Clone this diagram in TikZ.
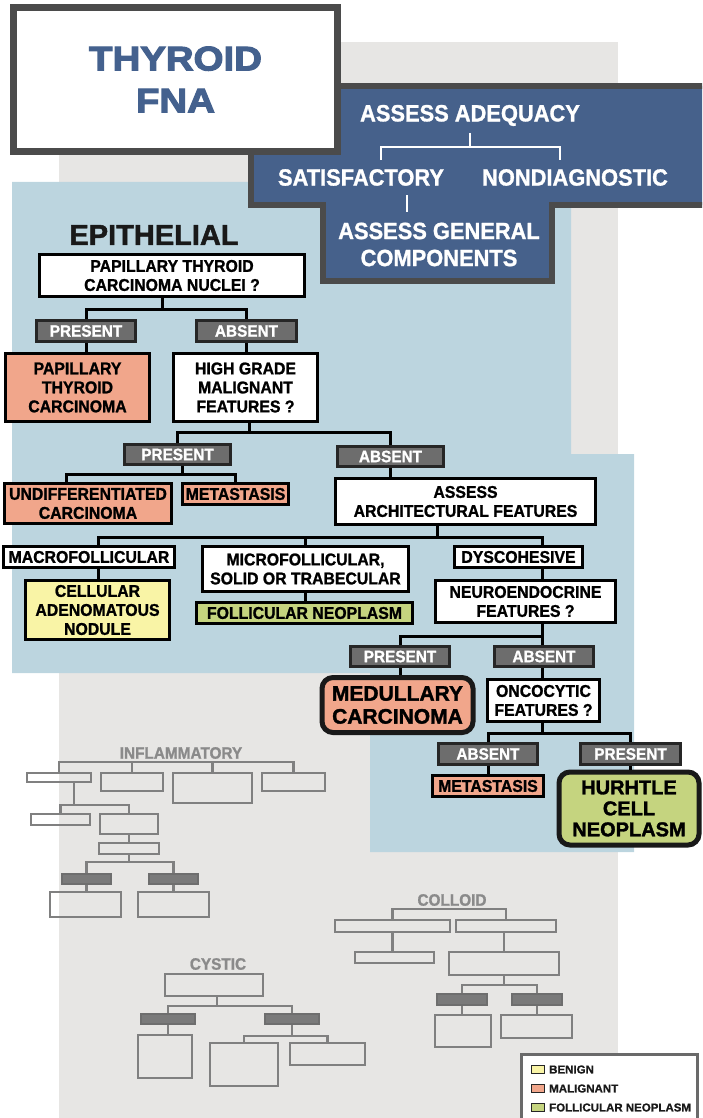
\documentclass[tikz,border=0pt]{standalone}
\usepackage{fontspec}
\setmainfont{Liberation Sans}
\newfontfamily\nf{Liberation Sans}[FakeStretch=0.93, FakeBold=1.2]
\newfontfamily\hf{Liberation Sans}[FakeBold=1.6]
\newfontfamily\lf{Liberation Sans}[FakeBold=0.8]
\newfontfamily\tf{Liberation Sans}[FakeStretch=1.13, FakeBold=3.4]
\definecolor{bggray}{HTML}{E7E6E4}
\definecolor{bluebg}{HTML}{BCD5DF}
\definecolor{navy}{HTML}{46618B}
\definecolor{titleblue}{HTML}{44618E}
\definecolor{dkb}{HTML}{4B4B4B}
\definecolor{salmon}{HTML}{F1A68B}
\definecolor{yellowc}{HTML}{F9F4A6}
\definecolor{greenc}{HTML}{C5D47F}
\definecolor{labgray}{HTML}{6D6D6D}
\definecolor{ghost}{HTML}{808080}
\definecolor{ghostdark}{HTML}{7A7A7A}
\definecolor{ghosttext}{HTML}{8A8A8A}
\definecolor{leggray}{HTML}{6A6A6A}
\tikzset{
  box/.style={draw=black, line width=2.5pt, fill=white, inner sep=0pt, align=center,
    text=black, font=\nf\bfseries\fontsize{17}{19}\selectfont},
  lab/.style={draw=black!85, line width=2.5pt, fill=labgray, inner sep=0pt,
    text=white, font=\nf\bfseries\fontsize{16.5}{19}\selectfont},
  mal/.style={box, fill=salmon},
  ben/.style={box, fill=yellowc},
  neo/.style={box, fill=greenc},
  big/.style={box, rounded corners=11pt, line width=5pt, draw=black!90,
    font=\hf\bfseries\fontsize{21}{23}\selectfont},
  conn/.style={draw=black, line width=3pt},
  navytext/.style={text=white, inner sep=0pt, align=center,
    font=\nf\bfseries\fontsize{23.5}{27}\selectfont},
  wline/.style={draw=white, line width=2.5pt},
  gbox/.style={draw=ghost, line width=2.5pt, inner sep=0pt},
  gdark/.style={gbox, fill=ghostdark, draw=ghostdark!90!black},
  gline/.style={draw=ghost, line width=2.5pt},
  gtext/.style={text=ghosttext, inner sep=0pt, font=\nf\bfseries\fontsize{16.5}{19}\selectfont},
  legsq/.style={draw=black!85, line width=1.8pt, minimum width=13pt, minimum height=8pt, inner sep=0pt},
  legtext/.style={anchor=west, inner sep=0pt, text=black!90, font=\lf\bfseries\fontsize{11.5}{13}\selectfont},
}
\begin{document}
\begin{tikzpicture}[x=1pt,y=-1pt]
\useasboundingbox (0,0) rectangle (702,1118);
\clip (0,0) rectangle (702,1118);

% backdrops
\fill[bggray] (59,42) rectangle (618,1118);
\fill[bluebg] (12,182) -- (571,182) -- (571,454) -- (634,454) -- (634,852)
  -- (370,852) -- (370,673) -- (12,673) -- cycle;

% adequacy panel
\draw[fill=navy, draw=dkb, line width=6pt] (251,86) -- (712,86) -- (712,205) -- (552,205)
  -- (552,281) -- (323,281) -- (323,205) -- (251,205) -- cycle;

% title
\node[draw=dkb, line width=7pt, fill=white, minimum width=324pt, minimum height=144pt,
  inner sep=0pt, align=center, text=titleblue,
  font=\tf\bfseries\fontsize{34}{42}\selectfont] (title) at (175.5,79.5) {THYROID\\FNA};

% adequacy panel text
\node[navytext] (adequacy) at (470,115.5) {ASSESS ADEQUACY};
\node[navytext] (sat) at (361,177.5) {SATISFACTORY};
\node[navytext] (nondiag) at (575,177.5) {NONDIAGNOSTIC};
\node[navytext] (general) at (439,244.5) {ASSESS GENERAL\\COMPONENTS};
\coordinate (wstem) at (470,133);
\coordinate (wl) at (381,147);
\coordinate (wr) at (560,147);
\coordinate (wlend) at (381,160);
\coordinate (wrend) at (560,160);
\coordinate (gtop) at (407,195);
\coordinate (gbot) at (407,212);
\draw[wline] (wstem) -- (wstem |- wl);
\draw[wline] (wlend) -- (wl) -- (wr) -- (wrend);
\draw[wline] (gtop) -- (gbot);

% epithelial tree
\node[inner sep=0pt, text=black!90, font=\hf\bfseries\fontsize{29}{32}\selectfont] (epi) at (154,235) {EPITHELIAL};

\node[box, minimum width=265pt, minimum height=42pt] (ptc) at (172,275.5) {PAPILLARY THYROID\\CARCINOMA NUCLEI ?};
\node[lab, minimum width=99pt, minimum height=21pt] (pres1) at (86,331) {PRESENT};
\node[lab, minimum width=100pt, minimum height=21pt] (abs1) at (246.5,331) {ABSENT};
\node[mal, minimum width=144pt, minimum height=68pt] (ptcarc) at (77.5,387.5) {PAPILLARY\\THYROID\\CARCINOMA};
\node[box, minimum width=144pt, minimum height=68pt] (hg) at (245.5,387.5) {HIGH GRADE\\MALIGNANT\\FEATURES ?};
\node[lab, minimum width=106pt, minimum height=20pt] (pres2) at (177.5,454.5) {PRESENT};
\node[lab, minimum width=106pt, minimum height=20pt] (abs2) at (390.5,456.5) {ABSENT};
\node[mal, minimum width=167pt, minimum height=40pt] (undiff) at (88,503.5) {UNDIFFERENTIATED\\CARCINOMA};
\node[mal, minimum width=106pt, minimum height=21pt] (meta1) at (235.5,494) {METASTASIS};
\node[box, minimum width=260pt, minimum height=46pt] (arch) at (465.5,501.5) {ASSESS\\ARCHITECTURAL FEATURES};
\node[box, minimum width=171pt, minimum height=21pt] (macro) at (89,557) {MACROFOLLICULAR};
\node[box, minimum width=206pt, minimum height=45pt] (micro) at (305.5,569) {MICROFOLLICULAR,\\SOLID OR TRABECULAR};
\node[box, minimum width=128pt, minimum height=21pt] (dys) at (518.5,557) {DYSCOHESIVE};
\node[ben, minimum width=144pt, minimum height=59pt] (cellular) at (97.5,610) {CELLULAR\\ADENOMATOUS\\NODULE};
\node[neo, minimum width=216pt, minimum height=21pt] (follneo) at (304.5,613) {FOLLICULAR NEOPLASM};
\node[box, minimum width=180pt, minimum height=42pt] (neuro) at (525.5,601.5) {NEUROENDOCRINE\\FEATURES ?};
\node[lab, minimum width=99pt, minimum height=20pt] (pres3) at (400,656.5) {PRESENT};
\node[lab, minimum width=99pt, minimum height=20pt] (abs3) at (544,656.5) {ABSENT};
\node[big, fill=salmon, minimum width=151pt, minimum height=55pt] (medullary) at (397.5,705) {MEDULLARY\\CARCINOMA};
\node[box, minimum width=112pt, minimum height=42pt] (onco) at (543.5,700.5) {ONCOCYTIC\\FEATURES ?};
\node[lab, minimum width=99pt, minimum height=21pt] (abs4) at (488,754) {ABSENT};
\node[lab, minimum width=100pt, minimum height=21pt] (pres4) at (630.5,754) {PRESENT};
\node[mal, minimum width=111pt, minimum height=21pt] (meta2) at (488,786) {METASTASIS};
\node[big, fill=greenc, minimum width=140pt, minimum height=73pt,
  font=\hf\bfseries\fontsize{20}{21}\selectfont] (hurthle) at (629,808.5) {HURHTLE\\CELL\\NEOPLASM};

% branch points of the tree
\coordinate (j1) at (162,309);
\coordinate (j2) at (249,432);
\coordinate (j3) at (182,474);
\coordinate (j4) at (437,537);
\coordinate (j5) at (542,636);
\coordinate (j6) at (542,733);
\coordinate (xa) at (98,0);
\coordinate (xc) at (542,0);
\coordinate (xd) at (66,0);

\draw[conn] (ptc.south -| j1) -- (j1);
\draw[conn] (pres1.north) |- (j1) -| (abs1.north);
\draw[conn] (pres1.south) -- (pres1.south |- ptcarc.north);
\draw[conn] (abs1.south) -- (abs1.south |- hg.north);
\draw[conn] (hg.south -| j2) -- (j2);
\draw[conn] (pres2.north) |- (j2) -| (abs2.north);
\draw[conn] (pres2.south -| j3) -- (j3);
\draw[conn] (undiff.north -| xd) |- (j3) -| (meta1.north);
\draw[conn] (abs2.south) -- (abs2.south |- arch.north);
\draw[conn] (arch.south -| j4) -- (j4);
\draw[conn] (macro.north -| xa) |- (j4) -| (dys.north -| xc);
\draw[conn] (micro.north) -- (micro.north |- j4);
\draw[conn] (macro.south -| xa) -- (cellular.north -| xa);
\draw[conn] (micro.south) -- (micro.south |- follneo.north);
\draw[conn] (dys.south -| xc) -- (neuro.north -| xc);
\draw[conn] (neuro.south -| xc) -- (j5);
\draw[conn] (pres3.north) |- (j5) -- (abs3.north -| j5);
\draw[conn] (pres3.south) -- (pres3.south |- medullary.north);
\draw[conn] (abs3.south -| xc) -- (onco.north -| xc);
\draw[conn] (onco.south -| xc) -- (j6);
\draw[conn] (abs4.north) |- (j6) -| (pres4.north);
\draw[conn] (abs4.south) -- (abs4.south |- meta2.north);
\draw[conn] (pres4.south) -- (pres4.south |- hurthle.north);

% inflammatory sketch
\node[gtext] (inflam) at (181,753) {INFLAMMATORY};
\node[gbox, minimum width=64pt, minimum height=9pt] (i1) at (59,777.5) {};
\node[gbox, minimum width=62pt, minimum height=18pt] (i2) at (132,782) {};
\node[gbox, minimum width=79pt, minimum height=30pt] (i3) at (212.5,788) {};
\node[gbox, minimum width=63pt, minimum height=18pt] (i4) at (293.5,782) {};
\node[gbox, minimum width=59pt, minimum height=11pt] (i5) at (60.5,819.5) {};
\node[gbox, minimum width=58pt, minimum height=20pt] (i6) at (129,824) {};
\node[gbox, minimum width=60pt, minimum height=11pt] (i7) at (129,848.5) {};
\node[gdark, minimum width=49pt, minimum height=10pt] (id1) at (86.5,879) {};
\node[gdark, minimum width=49pt, minimum height=10pt] (id2) at (173.5,879) {};
\node[gbox, minimum width=71pt, minimum height=25pt] (i8) at (85.5,904.5) {};
\node[gbox, minimum width=71pt, minimum height=25pt] (i9) at (173.5,904.5) {};
\coordinate (ib) at (0,762);
\coordinate (ij2) at (74,805);
\coordinate (ij3) at (129,862);
\draw[gline] (i1.north) |- (i4.north |- ib) -- (i4.north);
\draw[gline] (i2.north) -- (i2.north |- ib);
\draw[gline] (i3.north) -- (i3.north |- ib);
\draw[gline] (i1.south -| ij2) -- (ij2);
\draw[gline] (i5.north) |- (ij2) -| (i6.north);
\draw[gline] (i6.south) -- (i6.south |- i7.north);
\draw[gline] (i7.south) -- (i7.south |- ij3);
\draw[gline] (id1.north) |- (ij3) -| (id2.north);
\draw[gline] (id1.south) -- (id1.south |- i8.north);
\draw[gline] (id2.south) -- (id2.south |- i9.north);

% colloid sketch
\node[gtext] (colloid) at (452,900) {COLLOID};
\node[gbox, minimum width=115pt, minimum height=12pt] (c1) at (392.5,926) {};
\node[gbox, minimum width=100pt, minimum height=12pt] (c2) at (506,926) {};
\node[gbox, minimum width=79pt, minimum height=11pt] (c3) at (394.5,957.5) {};
\node[gbox, minimum width=110pt, minimum height=23pt] (c4) at (504,963.5) {};
\node[gdark, minimum width=50pt, minimum height=11pt] (cd1) at (462,999.5) {};
\node[gdark, minimum width=50pt, minimum height=11pt] (cd2) at (537,999.5) {};
\node[gbox, minimum width=56pt, minimum height=32pt] (c5) at (463,1031) {};
\node[gbox, minimum width=71pt, minimum height=23pt] (c6) at (536.5,1026.5) {};
\coordinate (cb) at (0,909);
\coordinate (cj) at (504,985);
\draw[gline] (c1.north) |- (c2.north |- cb) -- (c2.north);
\draw[gline] (c1.south) -- (c1.south |- c3.north);
\draw[gline] (c2.south -| c4.north) -- (c4.north);
\draw[gline] (c4.south) -- (cj);
\draw[gline] (cd1.north) |- (cj) -| (cd2.north);
\draw[gline] (cd1.south) -- (cd1.south |- c5.north);
\draw[gline] (cd2.south) -- (cd2.south |- c6.north);

% cystic sketch
\node[gtext] (cystic) at (218,964) {CYSTIC};
\node[gbox, minimum width=98pt, minimum height=22pt] (y1) at (214,985) {};
\node[gdark, minimum width=54pt, minimum height=10pt] (yd1) at (168,1019) {};
\node[gdark, minimum width=54pt, minimum height=10pt] (yd2) at (292,1019) {};
\node[gbox, minimum width=54pt, minimum height=43pt] (y2) at (165,1056.5) {};
\node[gbox, minimum width=68pt, minimum height=43pt] (y3) at (244,1064.5) {};
\node[gbox, minimum width=75pt, minimum height=22pt] (y4) at (327.5,1054) {};
\coordinate (yj) at (217,1006);
\coordinate (yj2) at (292,1036);
\draw[gline] (y1.south -| yj) -- (yj);
\draw[gline] (yd1.north) |- (yj) -| (yd2.north);
\draw[gline] (yd1.south) -- (yd1.south |- y2.north);
\draw[gline] (yd2.south) -- (yj2);
\draw[gline] (y3.north) |- (yj2) -| (y4.north);

% legend
\node[draw=leggray, line width=3pt, fill=white, minimum width=176pt, minimum height=70pt,
  inner sep=0pt] (legend) at (609,1089) {};
\node[legsq, fill=yellowc] (lsq1) at (538,1069.5) {};
\node[legsq, fill=salmon] (lsq2) at (538,1088.5) {};
\node[legsq, fill=greenc] (lsq3) at (538,1107.5) {};
\node[legtext] (lt1) at (549,1069.5) {BENIGN};
\node[legtext] (lt2) at (549,1088.5) {MALIGNANT};
\node[legtext] (lt3) at (549,1107.5) {FOLLICULAR NEOPLASM};
\end{tikzpicture}
\end{document}
